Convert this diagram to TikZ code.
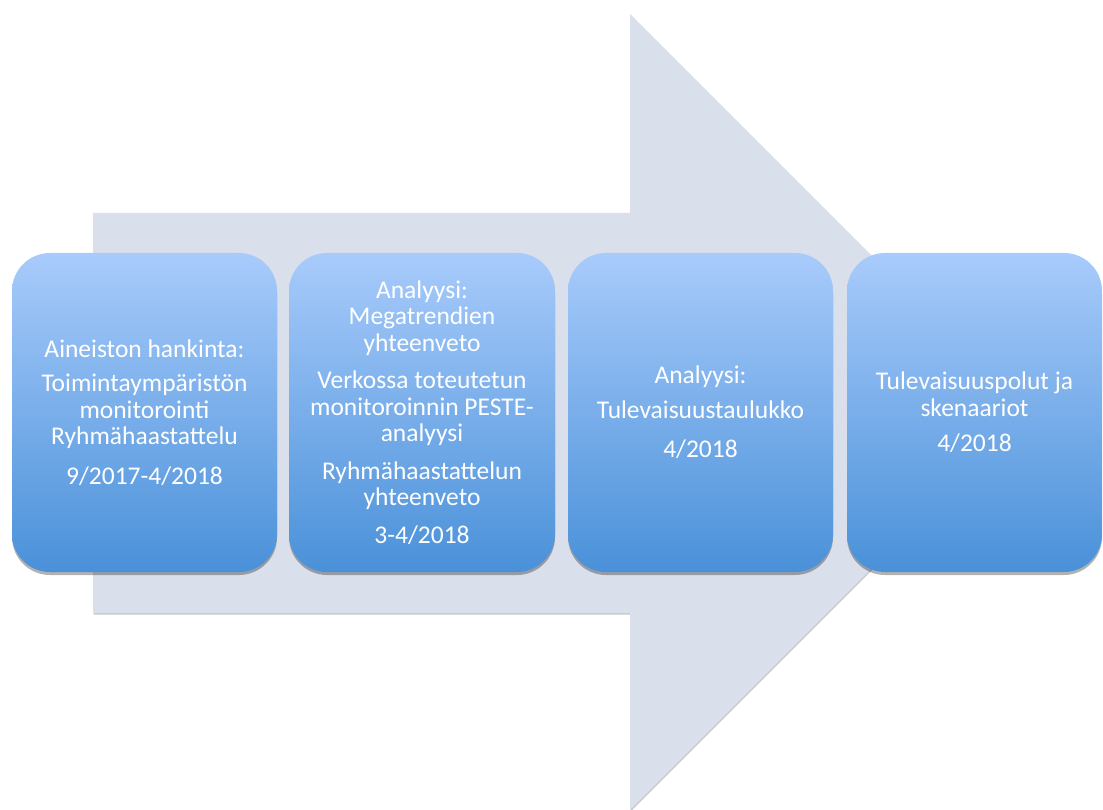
\documentclass[tikz,border=0pt]{standalone}
\usepackage{fontspec}
\setmainfont{Carlito}
\usetikzlibrary{shadows}
\definecolor{arrowfill}{RGB}{217,223,235}
\definecolor{boxtop}{RGB}{168,203,251}
\definecolor{boxbot}{RGB}{74,145,217}
\begin{document}
\begin{tikzpicture}[x=1pt,y=-1pt,
  stage/.style={rectangle, rounded corners=38pt, top color=boxtop, bottom color=boxbot,
    minimum height=319pt, text=white, align=center,
    font=\fontsize{25.5}{26.5}\selectfont, inner sep=0pt,
    drop shadow={shadow xshift=0pt, shadow yshift=-3pt, opacity=0.3, fill=black}},
  bigarrow/.style={fill=arrowfill,
    drop shadow={shadow xshift=0.6pt, shadow yshift=-1.6pt, opacity=0.35, fill=black!60}}]
\useasboundingbox (0,0) rectangle (1103,810);
\fill[white] (0,0) rectangle (1103,810);
\path[bigarrow] (93,213) -- (630,213) -- (630,14) -- (1028,412) -- (630,810) -- (630,613) -- (93,613) -- cycle;
\node[stage, minimum width=265pt] (b1) at (144.5,412.5)
  {Aineiston hankinta:\\[8pt]Toimintaympäristön\\monitorointi\\Ryhmähaastattelu\\[13pt]9/2017-4/2018};
\node[stage, minimum width=266pt] (b2) at (422,412.5)
  {Analyysi:\\Megatrendien\\yhteenveto\\[11pt]Verkossa toteutetun\\monitoroinnin PESTE-\\analyysi\\[11pt]Ryhmähaastattelun\\yhteenveto\\[11pt]3-4/2018};
\node[stage, minimum width=265pt] (b3) at (700.5,412.5)
  {Analyysi:\\[8pt]Tulevaisuustaulukko\\[13pt]4/2018};
\node[stage, minimum width=255pt] (b4) at (974.5,412.5)
  {Tulevaisuuspolut ja\\skenaariot\\[9pt]4/2018};
\end{tikzpicture}
\end{document}
